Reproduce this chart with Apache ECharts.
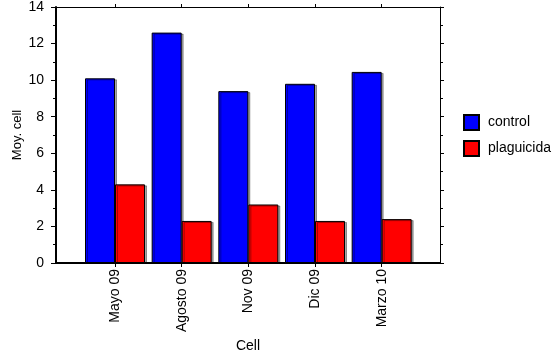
<!DOCTYPE html>
<html>
<head>
<meta charset="utf-8">
<script src="https://cdn.jsdelivr.net/npm/echarts@6/dist/echarts.min.js"></script>
<style>html,body{margin:0;padding:0;background:#fff}#c{width:555px;height:358px}</style>
</head>
<body>
<div id="c"></div>
<script>
var categories = ['Mayo 09', 'Agosto 09', 'Nov 09', 'Dic 09', 'Marzo 10'];
var controlValues = [10.1, 12.6, 9.4, 9.8, 10.45];
var plaguicidaValues = [4.3, 2.3, 3.2, 2.3, 2.4];
var yTicks = [0, 2, 4, 6, 8, 10, 12, 14];

var OFFSET = 0.885;  // position of first category on the value x-axis
var positions = categories.map(function (c, i) { return OFFSET + i; });
function pairs(vals) { return vals.map(function (v, i) { return [positions[i], v]; }); }
function catName(v) { var i = Math.round(v - OFFSET); return categories[i] || ''; }

var FONT = 'Liberation Sans, Arial, sans-serif';
var chart = echarts.init(document.getElementById('c'), null, {renderer: 'canvas'});
var barStyle = function (color) {
  return {color: color, borderColor: '#000', borderWidth: 1,
          shadowColor: 'rgba(0,0,0,0.35)', shadowBlur: 0, shadowOffsetX: 2, shadowOffsetY: 1};
};
chart.setOption({
  animation: false,
  backgroundColor: '#fff',
  grid: {left: 56, right: 115, top: 7, bottom: 95, containLabel: false, outerBoundsMode: 'none'},
  legend: {
    orient: 'vertical', left: 458, top: 109, itemWidth: 15, itemHeight: 15, itemGap: 9,
    icon: 'rect',
    itemStyle: {borderColor: '#000', borderWidth: 2, shadowBlur: 0, shadowOffsetX: 0, shadowOffsetY: 0},
    textStyle: {fontFamily: FONT, fontSize: 14, color: '#000', padding: [0, 0, 0, 4]},
    data: ['control', 'plaguicida']
  },
  xAxis: [{
    type: 'value', position: 'bottom', min: 0, max: 5.76,
    name: 'Cell', nameLocation: 'middle', nameGap: 76, nameMoveOverlap: false,
    nameTextStyle: {fontFamily: FONT, fontSize: 14, color: '#000'},
    axisLine: {show: true, onZero: false, lineStyle: {color: '#000', width: 2}},
    axisTick: {show: true, customValues: positions, length: 4, lineStyle: {color: '#000'}},
    axisLabel: {show: true, customValues: positions, rotate: 90, margin: 6,
                fontFamily: FONT, fontSize: 14, color: '#000', formatter: catName},
    splitLine: {show: false}
  }, {
    type: 'value', position: 'top', min: 0, max: 5.76,
    axisLine: {show: true, onZero: false, lineStyle: {color: '#000', width: 1}},
    axisTick: {show: true, customValues: positions, length: 3, lineStyle: {color: '#000'}},
    axisLabel: {show: false},
    splitLine: {show: false}
  }],
  yAxis: [{
    type: 'value', position: 'left', min: 0, max: 14, interval: 2,
    name: 'Moy. cell', nameLocation: 'middle', nameGap: 32, nameMoveOverlap: false,
    nameTextStyle: {fontFamily: FONT, fontSize: 13, color: '#000'},
    axisLine: {show: true, onZero: false, lineStyle: {color: '#000', width: 2}},
    axisTick: {show: true, length: 5, lineStyle: {color: '#000'}},
    minorTick: {show: true, splitNumber: 2, length: 3, lineStyle: {color: '#000'}},
    axisLabel: {margin: 12, fontFamily: FONT, fontSize: 14, color: '#000',
                customValues: yTicks},
    splitLine: {show: false}
  }, {
    type: 'value', position: 'right', min: 0, max: 14, interval: 2,
    axisLine: {show: true, onZero: false, lineStyle: {color: '#000', width: 1}},
    axisTick: {show: true, length: 4, lineStyle: {color: '#000'}},
    minorTick: {show: true, splitNumber: 2, length: 3, lineStyle: {color: '#000'}},
    axisLabel: {show: false},
    splitLine: {show: false}
  }],
  series: [{
    name: 'control', type: 'bar', xAxisIndex: 0, yAxisIndex: 0,
    barWidth: 30, barGap: '0%', itemStyle: barStyle('#0000FF'),
    data: pairs(controlValues)
  }, {
    name: 'plaguicida', type: 'bar', xAxisIndex: 0, yAxisIndex: 0,
    barWidth: 30, barGap: '0%', itemStyle: barStyle('#FF0000'),
    data: pairs(plaguicidaValues)
  }]
});
</script>
</body>
</html>
